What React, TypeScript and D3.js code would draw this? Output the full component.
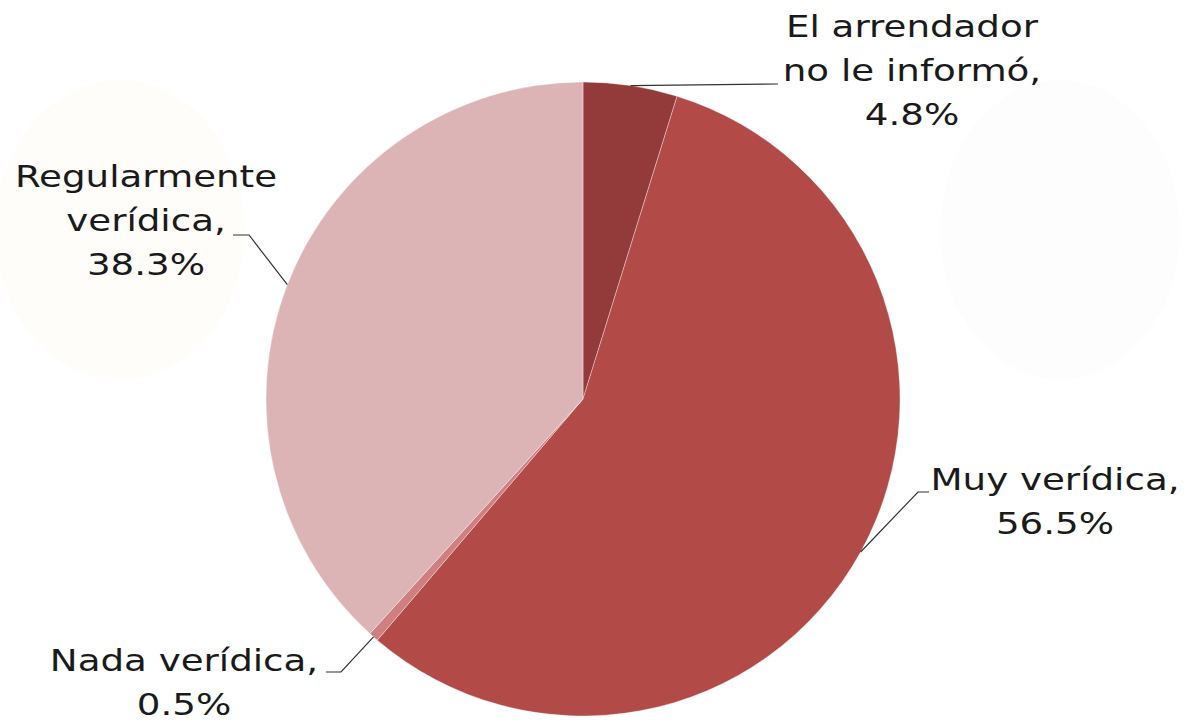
import React from "react";
import * as d3 from "d3";

const categories = ["El arrendador no le informó", "Muy verídica", "Nada verídica", "Regularmente verídica"];
const values = [4.8, 56.5, 0.5, 38.3];
const labelLines = [
  ["El arrendador", "no le informó,", "4.8%"],
  ["Muy verídica,", "56.5%"],
  ["Nada verídica,", "0.5%"],
  ["Regularmente", "verídica,", "38.3%"],
];
const colors = ["#933A3A", "#B24A48", "#CF7F7F", "#DDB4B5"];

const W = 1186, H = 721;
const cx = 583, cy = 399, R = 317;
const FS = 31;
const SX = 1.2;
const LH = 44;

const labelLayout = [
  { ex: 778, ey: 84, endX: 778, tx: 912, ty: 37, direct: true },
  { ex: 918, ey: 492, endX: 929, tx: 1055, ty: 490, direct: false },
  { ex: 341, ey: 672, endX: 326, tx: 184, ty: 671, direct: false },
  { ex: 249, ey: 235, endX: 233, tx: 146, ty: 187, direct: false },
];

export default function App() {
  const pie = d3.pie<number>().sort(null).value((d) => d);
  const arcs = pie(values);
  const arc = d3.arc<d3.PieArcDatum<number>>().innerRadius(0).outerRadius(R);

  return (
    <svg width={W} height={H} style={{ position: "absolute", left: 0, top: 0, background: "#fff" }}>
      <g opacity={0.12}>
        <ellipse cx={120} cy={230} rx={125} ry={150} fill="#F6EBD2" />
        <ellipse cx={1060} cy={230} rx={120} ry={150} fill="#E3EFE3" />
      </g>
      <g transform={`translate(${cx},${cy})`}>
        {arcs.map((a, i) => (
          <path key={categories[i]} d={arc(a) || ""} fill={colors[i]} stroke="#ffffff" strokeOpacity={0.35} strokeWidth={1} />
        ))}
      </g>
      {arcs.map((a, i) => {
        const mid = (a.startAngle + a.endAngle) / 2;
        const px = cx + R * Math.sin(mid);
        const py = cy - R * Math.cos(mid);
        const L = labelLayout[i];
        const pts = L.direct
          ? [[px, py], [L.endX, L.ey]]
          : [[px, py], [L.ex, L.ey], [L.endX, L.ey]];
        return (
          <g key={"l" + i}>
            <polyline points={pts.map((p) => p.join(",")).join(" ")} fill="none" stroke="#333" strokeWidth={1.2} />
            <g transform={`translate(${L.tx},0) scale(${SX},1)`}>
              <text fontFamily="DejaVu Sans, Verdana, sans-serif" fontSize={FS} fill="#1a1a1a" textAnchor="middle">
                {labelLines[i].map((t, j) => (
                  <tspan key={j} x={0} y={L.ty + j * LH}>{t}</tspan>
                ))}
              </text>
            </g>
          </g>
        );
      })}
    </svg>
  );
}
